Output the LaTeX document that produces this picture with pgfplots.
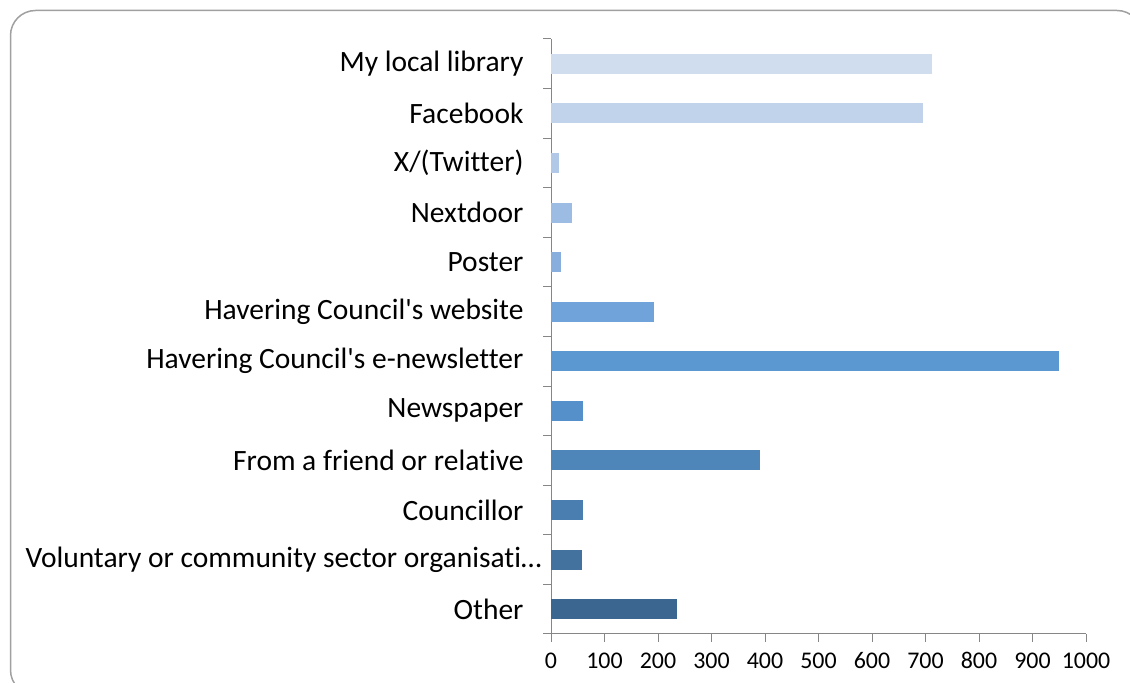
\documentclass[border=0pt]{standalone}
\usepackage{pgfplots}
\pgfplotsset{compat=1.18}
\usepackage{fontspec}
\setmainfont{Carlito}[Ligatures={NoCommon}]
\definecolor{axisgrey}{HTML}{868686}
\definecolor{framegrey}{HTML}{A0A0A0}
\definecolor{c1}{HTML}{D0DDEE}
\definecolor{c2}{HTML}{C1D3EA}
\definecolor{c3}{HTML}{B1C9E7}
\definecolor{c4}{HTML}{9DBCE4}
\definecolor{c5}{HTML}{88AEDD}
\definecolor{c6}{HTML}{6FA3D9}
\definecolor{c7}{HTML}{5B97D0}
\definecolor{c8}{HTML}{5590CA}
\definecolor{c9}{HTML}{4F86BA}
\definecolor{c10}{HTML}{4A7EB0}
\definecolor{c11}{HTML}{44729E}
\definecolor{c12}{HTML}{3B6690}
\begin{document}
\begin{tikzpicture}[x=1bp,y=1bp]
\useasboundingbox (0,0) rectangle (1130,683);
\begin{scope}
\clip (0,0) rectangle (1130,683);
\draw[framegrey, line width=1.5bp, rounded corners=25bp] (10.5,-12) rectangle (1142,672.5);
\end{scope}
\begin{axis}[
  at={(551bp,49bp)}, anchor=south west,
  scale only axis, width=535bp, height=595bp,
  xmin=0, xmax=1000, ymin=-0.5, ymax=11.5,
  axis x line*=bottom, axis y line*=left,
  axis line style={axisgrey, line width=1bp},
  xbar, bar width=20bp, bar shift=0pt,
  xtick={0,100,...,1000},
  ytick={0,...,11},
  yticklabels={Other, Voluntary or community sector organisati…\kern-18bp, Councillor, From a friend or relative, Newspaper, Havering Council\textquotesingle s e-newsletter, Havering Council\textquotesingle s website, Poster, Nextdoor, X/(Twitter), Facebook, My local library},
  minor ytick={-0.5,0.5,...,11.5},
  tick align=outside,
  major tick length=8bp, minor tick length=8bp,
  major y tick style={draw=none},
  minor y tick style={draw=axisgrey, line width=1bp},
  major x tick style={draw=axisgrey, line width=1bp},
  /pgf/number format/assume math mode=true,
  /pgf/number format/1000 sep={},
  xticklabel style={font=\fontsize{24}{28}\selectfont, yshift=-7bp},
  yticklabel style={font=\fontsize{29.6}{33}\selectfont, xshift=-16bp},
  clip=false,
]
\addplot[fill=c12, draw=none] coordinates {(235,0)};
\addplot[fill=c11, draw=none] coordinates {(57,1)};
\addplot[fill=c10, draw=none] coordinates {(60,2)};
\addplot[fill=c9, draw=none] coordinates {(390,3)};
\addplot[fill=c8, draw=none] coordinates {(60,4)};
\addplot[fill=c7, draw=none] coordinates {(950,5)};
\addplot[fill=c6, draw=none] coordinates {(192,6)};
\addplot[fill=c5, draw=none] coordinates {(19,7)};
\addplot[fill=c4, draw=none] coordinates {(39,8)};
\addplot[fill=c3, draw=none] coordinates {(15,9)};
\addplot[fill=c2, draw=none] coordinates {(696,10)};
\addplot[fill=c1, draw=none] coordinates {(713,11)};
\end{axis}
\end{tikzpicture}
\end{document}
